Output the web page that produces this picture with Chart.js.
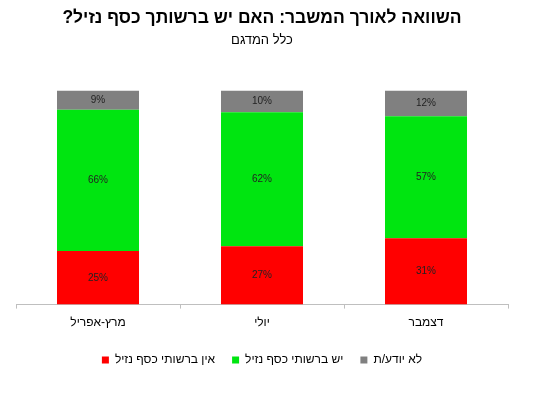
<!DOCTYPE html>
<html>
<head>
<meta charset="utf-8">
<script src="https://cdn.jsdelivr.net/npm/chart.js@4/dist/chart.umd.min.js"></script>
<style>
  html, body { margin: 0; padding: 0; background: #fff; }
  #wrap { width: 539px; height: 393px; }
</style>
</head>
<body>
<div id="wrap"><canvas id="chart"></canvas></div>
<script>
const categories = ['מרץ-אפריל', 'יולי', 'דצמבר'];
const noCash = [25, 27, 31];
const hasCash = [66, 62, 57];
const dontKnow = [9, 10, 12];
const seriesNames = ['אין ברשותי כסף נזיל', 'יש ברשותי כסף נזיל', 'לא יודע/ת'];

const FONT = "'Liberation Sans', Arial, sans-serif";

// 100% stacked: each column is scaled to its own total
const totals = categories.map((_, i) => noCash[i] + hasCash[i] + dontKnow[i]);
const share = arr => arr.map((v, i) => v / totals[i] * 100);

// draws the percentage inside each bar segment
const barLabels = {
    id: 'barLabels',
    afterDatasetsDraw(chart) {
        const ctx = chart.ctx;
        ctx.save();
        ctx.font = '10px ' + FONT;
        ctx.fillStyle = '#222';
        ctx.textAlign = 'center';
        ctx.textBaseline = 'middle';
        chart.data.datasets.forEach((ds, i) => {
            chart.getDatasetMeta(i).data.forEach((bar, j) => {
                const mid = (bar.y + bar.base) / 2;
                ctx.fillText(ds.raw[j] + '%', bar.x, mid);
            });
        });
        ctx.restore();
    }
};

new Chart(document.getElementById('chart'), {
    type: 'bar',
    data: {
        labels: categories,
        datasets: [
            { label: seriesNames[0], data: share(noCash), raw: noCash, backgroundColor: '#ff0000' },
            { label: seriesNames[1], data: share(hasCash), raw: hasCash, backgroundColor: '#00e510' },
            { label: seriesNames[2], data: share(dontKnow), raw: dontKnow, backgroundColor: '#808080' }
        ]
    },
    options: {
        responsive: true,
        maintainAspectRatio: false,
        animation: false,
        datasets: { bar: { categoryPercentage: 1, barPercentage: 0.5 } },
        layout: { padding: { left: 16, right: 31, top: 0, bottom: 17 } },
        plugins: {
            title: {
                display: true,
                text: 'השוואה לאורך המשבר: האם יש ברשותך כסף נזיל?',
                color: '#000',
                font: { family: FONT, size: 17.5, weight: 'bold' },
                padding: { top: 8, bottom: 4 }
            },
            subtitle: {
                display: true,
                text: 'כלל המדגם',
                color: '#000',
                font: { family: FONT, size: 13 },
                padding: { top: 0, bottom: 42 }
            },
            legend: {
                position: 'bottom',
                textDirection: 'rtl',
                labels: {
                    color: '#000',
                    font: { family: FONT, size: 12 },
                    boxWidth: 7,
                    boxHeight: 7,
                    padding: 17
                }
            },
            tooltip: { enabled: false }
        },
        scales: {
            x: {
                stacked: true,
                grid: { offset: true, drawOnChartArea: false, color: '#bfbfbf', tickLength: 4 },
                border: { color: '#bfbfbf' },
                ticks: { color: '#000', font: { family: FONT, size: 12 }, padding: 7 }
            },
            y: {
                stacked: true,
                display: false,
                min: 0,
                max: 100
            }
        }
    },
    plugins: [barLabels]
});
</script>
</body>
</html>
